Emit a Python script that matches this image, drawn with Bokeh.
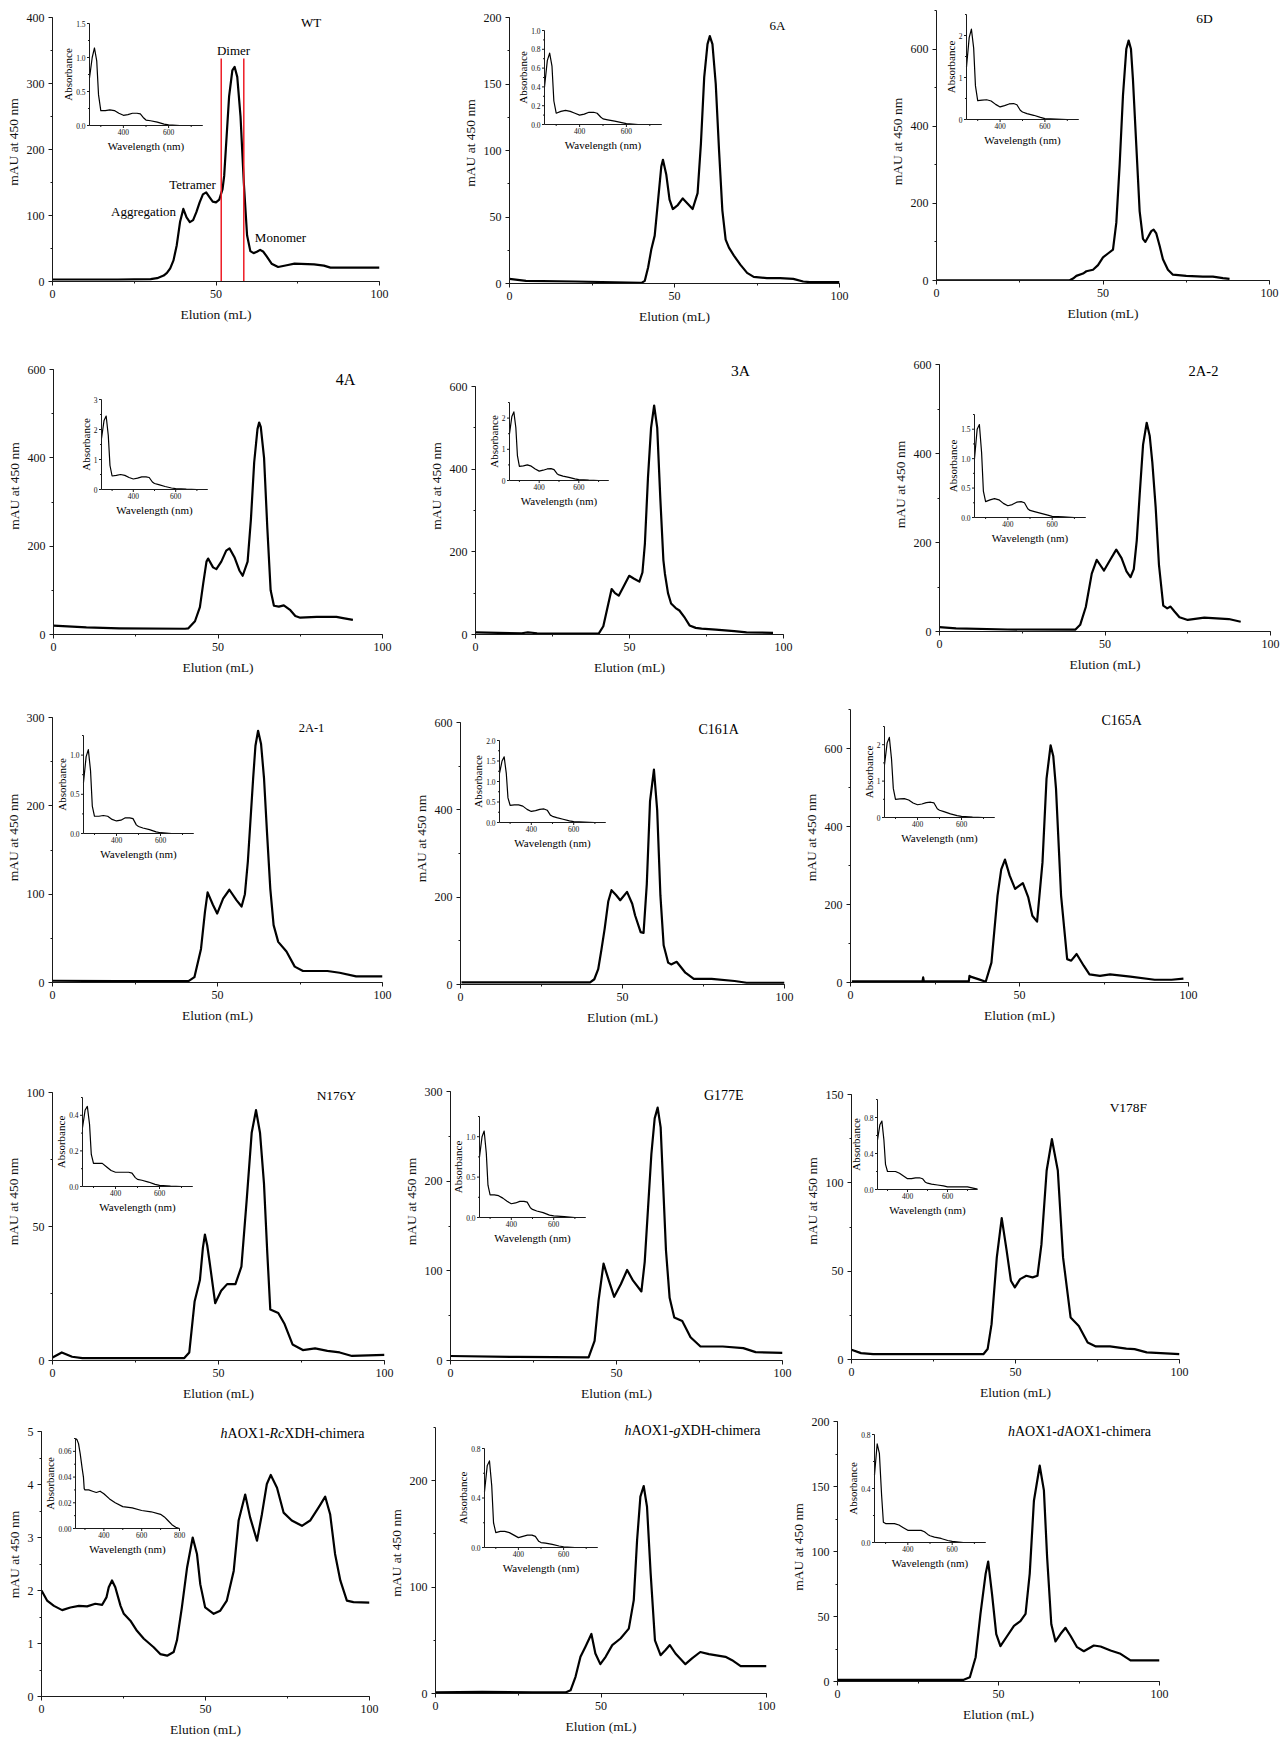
import math
from bokeh.plotting import figure
from bokeh.models import Range1d, SingleIntervalTicker, Label
from bokeh.layouts import row, column
from bokeh.core.properties import value
from bokeh.embed import file_html
from bokeh.resources import INLINE

FONT = "Liberation Serif"

# ---------------- chromatogram data (Elution mL, mAU at 450 nm) ----------------
WT_ML = [0, 10, 20, 30, 32, 34, 35, 36, 37, 38, 39, 40, 41, 42, 43, 44, 45, 46, 47, 48, 49, 50, 51, 52, 52.5, 53, 54, 55, 55.7, 56.5,
         57.5, 58.5, 59.5, 60.5, 61.5, 62.5, 63.5, 64.5, 65.5, 67, 69, 72, 74, 80, 83, 85, 90, 100]
WT_MAU = [3, 3, 3, 3.5, 5, 9, 13, 20, 32, 55, 90, 110, 97, 90, 93, 105, 120, 132, 135, 128, 121, 120, 124, 140, 160, 200, 280, 320, 325, 310,
          250, 150, 70, 46, 43, 45, 48, 45, 38, 27, 22, 25, 27, 26, 24, 21, 21, 21]
A6_ML = [0, 5, 20, 40, 41, 42, 43, 44, 45, 46, 46.5, 47.5, 48.5, 49.5, 51, 52.5, 54, 55.5, 57, 58, 59, 60, 60.7, 61.5, 62.5, 63.5, 64.5, 65.5,
         66.5, 68, 70, 72, 74, 78, 82, 86, 89, 91, 100]
A6_MAU = [3.5, 2, 1.5, 0.5, 2, 12, 26, 36, 62, 88, 93, 82, 63, 56, 59, 64, 60, 56, 68, 105, 155, 180, 186, 180, 150, 100, 55, 33,
          27, 21, 14, 8, 5, 4, 4, 3.5, 1.5, 1, 1]
D6_ML = [0, 40, 41, 42, 44, 45, 47, 48.5, 50, 51.5, 53, 54, 55, 56, 57, 57.7, 58.4, 59, 60, 61, 62, 62.7, 63.5, 64.5, 65.2, 66, 67, 68,
         69.5, 71, 75, 80, 83, 86, 88]
D6_MAU = [0.5, 0.5, 5, 12, 18, 24, 28, 40, 60, 70, 80, 150, 300, 480, 600, 622, 600, 520, 350, 180, 108, 100, 112, 128, 132, 122, 90, 55,
          28, 15, 12, 10, 10, 6, 4]
A4_ML = [0, 10, 20, 40, 41, 43, 44.5, 45.5, 46.5, 47, 48.5, 49.5, 51, 52.5, 53.5, 55, 56.5, 57.5, 59, 60, 61, 62, 62.5, 63, 64, 65, 66, 67,
         68.5, 70, 72, 73.5, 75, 80, 86, 88, 91]
A4_MAU = [20, 16, 14, 13, 14, 30, 62, 115, 165, 172, 152, 148, 165, 190, 195, 175, 145, 133, 165, 260, 390, 465, 480, 470, 400, 240, 100, 65,
          63, 66, 55, 42, 38, 40, 40, 37, 33]
A3_ML = [0, 15, 17, 20, 40, 41.5, 43, 44.2, 45.3, 46.5, 48, 49.9, 51.5, 53.2, 54.2, 55, 56, 57, 58, 59, 60, 61, 61.5, 62.5, 63.5, 65, 66.2,
         68, 69.5, 71.5, 73.4, 78, 84, 88, 96.6]
A3_MAU = [5, 3, 5, 3, 2, 20, 70, 110, 100, 94, 115, 142, 135, 128, 150, 220, 380, 500, 554, 500, 330, 180, 147, 100, 75, 64, 58,
          40, 22, 16, 14, 12, 8, 5, 4]
A22_ML = [0, 5, 20.6, 41, 42.5, 44.2, 46, 47.5, 48.5, 49.7, 51.5, 53.4, 55, 56.5, 57.7, 58.7, 59.6, 60.5, 61.5, 62.6, 63.5, 64.3, 65.3,
          66.3, 67.6, 68.8, 69.8, 71, 72.5, 75, 80, 87.4, 91]
A22_MAU = [10, 7, 4.5, 4, 15, 55, 130, 161, 150, 137, 160, 184, 165, 135, 122, 140, 205, 310, 420, 469, 440, 380, 280,
           150, 58, 52, 56, 45, 32, 26, 31, 28, 22]
A21_ML = [0, 20, 41.2, 43, 45, 46.2, 47, 48.6, 49.9, 51.7, 53.6, 55.8, 57.3, 58.3, 59.2, 60.8, 61.5, 62.3, 63.2, 64.1, 65, 66, 67, 68.4,
          70.9, 73.4, 75.9, 83.3, 87, 92, 100]
A21_MAU = [2, 1.5, 1.5, 6, 38, 80, 102, 88, 78, 95, 105, 93, 86, 100, 137, 231, 268, 285, 270, 231, 170, 106, 65, 46,
           35, 18, 13, 13, 11, 7, 7]
C161_ML = [0.3, 20, 40, 41.3, 42.5, 43.5, 44.5, 45.6, 46.6, 48, 49.3, 51.4, 53, 53.9, 55.6, 56.5, 57.5, 58.5, 59.7, 60.7, 61.7, 62.7,
           64.1, 65, 66.7, 68, 69.4, 72, 77.5, 84.6, 88.3, 100]
C161_MAU = [5, 5, 5, 12, 35, 80, 128, 190, 216, 205, 193, 212, 185, 158, 120, 118, 230, 420, 492, 400, 204, 90,
            50, 46, 52, 40, 27, 13, 13, 8, 4, 4]
C165_ML = [0.4, 21.3, 21.5, 21.7, 35, 35.2, 35.5, 38, 40, 41.7, 43.5, 44.6, 45.7, 47.1, 48.7, 51, 52.6, 53.8, 55.2, 56.8, 58, 59.2, 60,
           60.8, 62.3, 64.1, 65.3, 66.9, 69, 70.7, 73.8, 76.8, 82.8, 90, 95, 98.5]
C165_MAU = [3, 3, 13, 3, 3, 17, 15, 8, 2, 51, 223, 290, 315, 274, 240, 255, 218, 171, 156, 308, 523, 608, 580,
            497, 223, 60, 56, 73, 43, 21, 17, 21, 15, 7, 7, 10]
N176_ML = [0, 2.8, 5.9, 9, 39.7, 41.2, 42.8, 44.4, 45.3, 45.9, 46.6, 47.4, 49, 50.8, 52.6, 55.1, 56.9, 58.5, 60, 61.3, 62.5, 63.7, 64.7,
           65.6, 68, 69.9, 72.3, 75.4, 79.1, 82.8, 86.5, 90.2, 100]
N176_MAU = [1.1, 3, 1.4, 0.9, 0.9, 3, 22, 30, 42, 47, 43, 36, 21.4, 26, 28.5, 28.5, 35, 60, 85, 93.4, 85, 66, 40,
            19, 17.7, 13.6, 6, 3.9, 4.5, 3.6, 3, 1.7, 2.1]
G177_ML = [0, 20, 41.6, 43.4, 44.6, 46.1, 47.7, 49.3, 51.3, 53.2, 55, 57.5, 58.5, 59.5, 60.5, 61.5, 62.4, 63.3, 64, 64.9, 66, 67.4,
           69.8, 72.3, 75.3, 82, 88.2, 91.9, 100]
G177_MAU = [5, 4, 3.4, 22, 67, 108, 89, 71, 85, 101, 89, 77, 110, 170, 230, 270, 282, 260, 200, 123, 70, 48,
            44, 26, 15.6, 15.6, 13.8, 9.3, 8.6]
V178_ML = [0, 2.9, 6.6, 40.2, 41.5, 42.7, 44.3, 45.8, 47.3, 48.6, 49.8, 51.4, 53.3, 55.2, 56.7, 57.9, 59.5, 61.1, 62.9, 64.5, 66.8,
           69.3, 72, 74.5, 78.8, 83.8, 86.3, 90, 100]
V178_MAU = [5.5, 3.6, 3, 3, 5.9, 20, 57.8, 80, 61.6, 44.6, 40.8, 45.5, 47.4, 46.5, 47.4, 65, 107, 124.7, 107, 57.8, 23.8,
            19, 9.6, 7.4, 7.4, 6.2, 5.9, 4, 3]
RC_ML = [0, 1.7, 3.8, 6.3, 8.8, 11.4, 13.9, 16.4, 18.5, 19.8, 20.5, 21.5, 22.5, 24.1, 25.1, 27.1, 29.1, 31.2, 34.2, 36.2,
         38.3, 40.3, 41.3, 42.8, 44.4, 46.1, 47.4, 48.4, 49.9, 52.5, 54.5, 56.5, 58.6, 60.1, 62.1, 63.6, 65.7, 67.2, 68.7, 69.9,
         71.8, 73.8, 76.3, 79.4, 81.9, 84.5, 86.5, 88, 89.5, 91.1, 93.1, 95.1, 100]
RC_MAU = [2.0, 1.81, 1.71, 1.63, 1.68, 1.71, 1.70, 1.75, 1.73, 1.87, 2.06, 2.19, 2.06, 1.71, 1.56, 1.43, 1.24, 1.09, 0.93, 0.80,
          0.77, 0.84, 1.06, 1.68, 2.44, 3.0, 2.69, 2.12, 1.68, 1.56, 1.62, 1.81, 2.37, 3.32, 3.81, 3.38, 2.94, 3.44, 4.01, 4.18,
          3.94, 3.47, 3.32, 3.22, 3.32, 3.57, 3.77, 3.44, 2.69, 2.19, 1.81, 1.78, 1.77]
GX_ML = [0, 14.1, 29.2, 39.3, 40.8, 42.3, 43.8, 45.3, 47.1, 48.3, 49.8, 51.4, 53.4, 55.9, 58.4, 59.9, 60.9, 61.9, 62.9, 63.9, 65, 66.3,
         68, 69.5, 70.8, 72.5, 75.5, 77.5, 80, 82.6, 87.6, 89.6, 92.2, 100]
GX_MAU = [1, 1.5, 1, 1, 3, 15.7, 34.5, 44, 56, 37.6, 27.6, 34.5, 45.5, 51.7, 61, 87.8, 144, 185, 195, 175.5, 112.9, 50,
          36, 40.8, 45.5, 37.6, 27.6, 33, 39, 37, 34.5, 31.3, 25.7, 25.7]
DA_ML = [0, 28.9, 39.2, 41.1, 42.9, 44.4, 46, 46.8, 48, 49.3, 50.6, 52.7, 54.8, 56.8, 58.4, 59.7, 61, 62.8, 64.1, 65.1, 66.4, 67.7,
         69.3, 70.8, 72.4, 74.4, 76.5, 79.6, 81.7, 84.8, 87.9, 91, 100]
DA_MAU = [1.3, 1.3, 1.3, 3.3, 18.7, 52, 82.8, 92.3, 67, 36.4, 27.2, 35, 42.8, 46.4, 52, 83, 139, 166, 147, 95.6, 44, 30.8,
          36.7, 41.3, 35, 26.4, 23.3, 27.7, 26.9, 23.8, 21.3, 16.2, 16.2]

# WT annotations: dimer fraction boundaries (mL) and their height
DIMER_ML = [51.6, 58.5]
DIMER_TOP = 338

# ---------------- inset spectra (Wavelength nm, Absorbance) ----------------
SPEC_WL = [250, 262, 272, 282, 290, 300, 320, 340, 360, 380, 400, 420, 440, 460, 475, 490, 500, 520, 550, 580, 600, 650, 700, 750]
WT_ABS = [0.70, 1.00, 1.14, 0.95, 0.45, 0.22, 0.22, 0.23, 0.22, 0.18, 0.15, 0.16, 0.18, 0.18, 0.17, 0.11, 0.08, 0.07, 0.05, 0.02, 0.01, 0.0, 0.0, 0.0]
A6_ABS = [0.40, 0.68, 0.76, 0.62, 0.25, 0.12, 0.14, 0.15, 0.14, 0.12, 0.10, 0.11, 0.13, 0.13, 0.12, 0.08, 0.06, 0.05, 0.035, 0.02, 0.01, 0.0, 0.0, 0.0]
D6_ABS = [1.25, 1.95, 2.15, 1.70, 0.80, 0.45, 0.46, 0.47, 0.44, 0.36, 0.30, 0.33, 0.37, 0.38, 0.35, 0.22, 0.18, 0.14, 0.10, 0.05, 0.02, 0.01, 0.0, 0.0]
A4_ABS = [1.70, 2.30, 2.45, 1.80, 0.80, 0.45, 0.47, 0.50, 0.47, 0.40, 0.35, 0.38, 0.42, 0.42, 0.40, 0.25, 0.20, 0.16, 0.10, 0.05, 0.03, 0.01, 0.0, 0.0]
A3_ABS = [1.50, 2.05, 2.20, 1.70, 0.80, 0.45, 0.47, 0.50, 0.46, 0.37, 0.30, 0.33, 0.37, 0.38, 0.35, 0.22, 0.18, 0.14, 0.10, 0.05, 0.03, 0.01, 0.0, 0.0]
A22_ABS = [1.00, 1.50, 1.58, 1.10, 0.45, 0.27, 0.30, 0.32, 0.30, 0.24, 0.20, 0.22, 0.26, 0.27, 0.25, 0.15, 0.12, 0.10, 0.07, 0.04, 0.02, 0.01, 0.0, 0.0]
A21_ABS = [0.65, 0.98, 1.07, 0.80, 0.35, 0.22, 0.22, 0.23, 0.22, 0.18, 0.16, 0.17, 0.20, 0.20, 0.19, 0.11, 0.09, 0.07, 0.05, 0.02, 0.01, 0.0, 0.0, 0.0]
C161_ABS = [1.20, 1.50, 1.60, 1.20, 0.60, 0.42, 0.43, 0.43, 0.40, 0.32, 0.27, 0.29, 0.32, 0.33, 0.30, 0.18, 0.15, 0.12, 0.08, 0.04, 0.02, 0.01, 0.0, 0.0]
C165_ABS = [1.45, 2.05, 2.20, 1.60, 0.80, 0.50, 0.51, 0.52, 0.48, 0.40, 0.35, 0.37, 0.41, 0.42, 0.40, 0.24, 0.20, 0.16, 0.10, 0.05, 0.03, 0.01, 0.0, 0.0]
N176_ABS = [0.33, 0.43, 0.45, 0.35, 0.18, 0.13, 0.13, 0.13, 0.11, 0.09, 0.08, 0.08, 0.08, 0.08, 0.075, 0.05, 0.04, 0.035, 0.025, 0.012, 0.006, 0.002, 0.0, 0.0]
G177_ABS = [0.75, 1.00, 1.07, 0.80, 0.40, 0.28, 0.28, 0.27, 0.24, 0.20, 0.17, 0.18, 0.20, 0.20, 0.19, 0.12, 0.10, 0.08, 0.06, 0.03, 0.02, 0.01, 0.0, 0.0]
V178_ABS = [0.55, 0.72, 0.76, 0.55, 0.28, 0.20, 0.20, 0.20, 0.18, 0.15, 0.12, 0.12, 0.13, 0.13, 0.12, 0.08, 0.07, 0.06, 0.05, 0.04, 0.03, 0.03, 0.03, 0.005]
GX_ABS = [0.45, 0.66, 0.70, 0.50, 0.20, 0.12, 0.13, 0.13, 0.12, 0.10, 0.08, 0.09, 0.10, 0.10, 0.09, 0.05, 0.04, 0.035, 0.025, 0.012, 0.006, 0.0, 0.0, 0.0]
DA_ABS = [0.50, 0.73, 0.66, 0.35, 0.15, 0.14, 0.14, 0.14, 0.13, 0.11, 0.09, 0.09, 0.09, 0.09, 0.08, 0.06, 0.05, 0.04, 0.03, 0.015, 0.008, 0.0, 0.0, 0.0]
RC_WL = [250, 258, 266, 275, 285, 292, 296, 300, 320, 340, 360, 380, 400, 430, 460, 500, 550, 600, 650, 700, 720, 740, 760, 780, 800]
RC_ABS = [0.070, 0.069, 0.066, 0.058, 0.047, 0.040, 0.031, 0.030, 0.030, 0.029, 0.028, 0.029, 0.027, 0.023, 0.020, 0.017, 0.016,
          0.014, 0.013, 0.011, 0.009, 0.006, 0.003, 0.001, 0.0]

# ---------------- text widths (Times-like metrics, em) ----------------
W_N = {'A': .722, 'O': .722, 'X': .722, 'D': .722, 'H': .722, '1': .5, '-': .333, 'c': .444, 'h': .5, 'i': .278,
       'm': .778, 'e': .444, 'r': .333, 'a': .444}
W_I = {'h': .5, 'R': .611, 'c': .444, 'g': .5, 'd': .5}


def tw(s, italic=False):
    tab = W_I if italic else W_N
    return sum(tab.get(ch, 0.5) for ch in s)


def num_w(s):
    return sum(0.25 if ch == '.' else 0.5 for ch in s)


# ---------------- panel layout specs (pixels) ----------------
PANELS = [
    # row 1
    dict(ml=WT_ML, mau=WT_MAU, ymax=400, ystep=100, frame=(52, 379, 17, 281), fig=(0, 430, 0, 335),
         title=[("WT", False)], tpos=(307, 22), tsize=13,
         inset=dict(wl=SPEC_WL, ab=WT_ABS, xr=(250, 750), yr=(0, 1.5), ystep=0.5, fmt="{:.1f}", box=(89, 202, 23, 125))),
    dict(ml=A6_ML, mau=A6_MAU, ymax=200, ystep=50, frame=(509, 839, 17, 283), fig=(430, 860, 0, 335),
         title=[("6A", False)], tpos=(777, 25), tsize=13,
         inset=dict(wl=SPEC_WL, ab=A6_ABS, xr=(250, 750), yr=(0, 1.0), ystep=0.2, fmt="{:.1f}", box=(544, 661, 30, 124))),
    dict(ml=D6_ML, mau=D6_MAU, ymax=700, ystep=200, frame=(936, 1269, 10, 280), fig=(860, 1280, 0, 335),
         title=[("6D", False)], tpos=(1204, 18), tsize=13.5,
         inset=dict(wl=SPEC_WL, ab=D6_ABS, xr=(250, 750), yr=(0, 2.5), ystep=1, fmt="{:.0f}", box=(966, 1078, 14, 119))),
    # row 2
    dict(ml=A4_ML, mau=A4_MAU, ymax=600, ystep=200, frame=(53, 382, 369, 634), fig=(0, 420, 335, 690),
         title=[("4A", False)], tpos=(345, 379), tsize=16,
         inset=dict(wl=SPEC_WL, ab=A4_ABS, xr=(250, 750), yr=(0, 3), ystep=1, fmt="{:.0f}", box=(101, 207, 399, 489))),
    dict(ml=A3_ML, mau=A3_MAU, ymax=600, ystep=200, frame=(475, 783, 386, 634), fig=(420, 860, 335, 690),
         title=[("3A", False)], tpos=(740, 370), tsize=15.5,
         inset=dict(wl=SPEC_WL, ab=A3_ABS, xr=(250, 750), yr=(0, 2.5), ystep=1, fmt="{:.0f}", box=(509, 608, 402, 480))),
    dict(ml=A22_ML, mau=A22_MAU, ymax=600, ystep=200, frame=(939, 1270, 364, 631), fig=(860, 1280, 335, 690),
         title=[("2A-2", False)], tpos=(1203, 370), tsize=14.5,
         inset=dict(wl=SPEC_WL, ab=A22_ABS, xr=(250, 750), yr=(0, 1.75), ystep=0.5, fmt="{:.1f}", box=(974, 1085, 414, 517))),
    # row 3
    dict(ml=A21_ML, mau=A21_MAU, ymax=300, ystep=100, frame=(52, 382, 717, 982), fig=(0, 410, 690, 1040),
         title=[("2A-1", False)], tpos=(311, 727), tsize=12.5,
         inset=dict(wl=SPEC_WL, ab=A21_ABS, xr=(250, 750), yr=(0, 1.25), ystep=0.5, fmt="{:.1f}", box=(83, 193, 735, 833))),
    dict(ml=C161_ML, mau=C161_MAU, ymax=600, ystep=200, frame=(460, 784, 722, 984), fig=(410, 800, 690, 1040),
         title=[("C161A", False)], tpos=(717, 729), tsize=14,
         inset=dict(wl=SPEC_WL, ab=C161_ABS, xr=(250, 750), yr=(0, 2.0), ystep=0.5, fmt="{:.1f}", box=(499, 605, 740, 822))),
    dict(ml=C165_ML, mau=C165_MAU, ymax=700, ystep=200, frame=(850, 1188, 709, 982), fig=(800, 1280, 690, 1040),
         title=[("C165A", False)], tpos=(1120, 720), tsize=14,
         inset=dict(wl=SPEC_WL, ab=C165_ABS, xr=(250, 750), yr=(0, 2.5), ystep=1, fmt="{:.0f}", box=(884, 994, 726, 817))),
    # row 4
    dict(ml=N176_ML, mau=N176_MAU, ymax=100, ystep=50, frame=(52, 384, 1092, 1360), fig=(0, 400, 1040, 1410),
         title=[("N176Y", False)], tpos=(333, 1095), tsize=13.5,
         inset=dict(wl=SPEC_WL, ab=N176_ABS, xr=(250, 750), yr=(0, 0.5), ystep=0.2, fmt="{:.1f}", box=(82, 192, 1097, 1186))),
    dict(ml=G177_ML, mau=G177_MAU, ymax=300, ystep=100, frame=(449, 781, 1091, 1360), fig=(400, 800, 1040, 1410),
         title=[("G177E", False)], tpos=(720, 1095), tsize=14,
         inset=dict(wl=SPEC_WL, ab=G177_ABS, xr=(250, 750), yr=(0, 1.25), ystep=0.5, fmt="{:.1f}", box=(478, 584, 1116, 1217))),
    dict(ml=V178_ML, mau=V178_MAU, ymax=150, ystep=50, frame=(847, 1175, 1094, 1359), fig=(800, 1280, 1040, 1410),
         title=[("V178F", False)], tpos=(1122, 1107), tsize=13.5,
         inset=dict(wl=SPEC_WL, ab=V178_ABS, xr=(250, 750), yr=(0, 1.0), ystep=0.4, fmt="{:.1f}", box=(873, 973, 1099, 1189))),
    # row 5
    dict(ml=RC_ML, mau=RC_MAU, ymax=5, ystep=1, frame=(41, 369, 1431, 1696), fig=(0, 385, 1410, 1742),
         title=[("h", True), ("AOX1-", False), ("Rc", True), ("XDH-chimera", False)], tpos=(292, 1433), tsize=14,
         inset=dict(wl=RC_WL, ab=RC_ABS, xr=(250, 800), yr=(0, 0.07), ystep=0.02, fmt="{:.2f}", box=(75, 179, 1438, 1528))),
    dict(ml=GX_ML, mau=GX_MAU, ymax=250, ystep=100, frame=(433, 764, 1427, 1693), fig=(385, 785, 1410, 1742),
         title=[("h", True), ("AOX1-", False), ("g", True), ("XDH-chimera", False)], tpos=(690, 1430), tsize=14,
         inset=dict(wl=SPEC_WL, ab=GX_ABS, xr=(250, 750), yr=(0, 0.8), ystep=0.4, fmt="{:.1f}", box=(482, 595, 1448, 1547))),
    dict(ml=DA_ML, mau=DA_MAU, ymax=200, ystep=50, frame=(834, 1156, 1421, 1681), fig=(785, 1280, 1410, 1742),
         title=[("h", True), ("AOX1-", False), ("d", True), ("AOX1-chimera", False)], tpos=(1076, 1431), tsize=14,
         inset=dict(wl=SPEC_WL, ab=DA_ABS, xr=(250, 750), yr=(0, 0.8), ystep=0.4, fmt="{:.1f}", box=(871, 982, 1434, 1542))),
]

WT_NOTES = [("Dimer", 233, 50), ("Tetramer", 192, 184), ("Aggregation", 143, 211), ("Monomer", 280, 237)]

AX_COLOR = "#1a1a1a"


def style_axis(ax, label_standoff):
    ax.axis_line_color = AX_COLOR
    ax.axis_line_width = 1
    ax.major_tick_line_color = AX_COLOR
    ax.minor_tick_line_color = AX_COLOR
    ax.major_tick_in = 0
    ax.major_tick_out = 4
    ax.minor_tick_in = 0
    ax.minor_tick_out = 2
    ax.major_label_text_font = FONT
    ax.major_label_text_font_size = "12px"
    ax.major_label_text_color = "#111111"
    ax.major_label_standoff = 4
    ax.axis_label_text_font = FONT
    ax.axis_label_text_font_size = "13.5px"
    ax.axis_label_text_font_style = "normal"
    ax.axis_label_text_color = "#111111"
    ax.axis_label_standoff = label_standoff


def add_label(p, x, y, text, size, italic=False, align="center"):
    p.add_layout(Label(x=x, y=y, x_units="data", y_units="data", text=text, text_align=align,
                       text_baseline="middle", text_font=FONT, text_font_size=f"{size}px",
                       text_font_style="italic" if italic else "normal", text_color="black"))


def make_panel(sp, is_wt=False):
    L, R, T, B = sp["frame"]
    FX0, FX1, FY0, FY1 = sp["fig"]
    ymax = sp["ymax"]
    # the frame reaches almost to the figure top so that titles above the axis end are not clipped;
    # the visible y axis is bounded to [0, ymax]
    Tf = FY0 + 2
    y_end = ymax * (B - Tf) / float(B - T)
    p = figure(frame_width=R - L, frame_height=B - Tf,
               min_border_left=L - FX0, min_border_right=FX1 - R,
               min_border_top=Tf - FY0, min_border_bottom=FY1 - B,
               x_range=Range1d(0, 100), y_range=Range1d(0, y_end),
               output_backend="svg", toolbar_location=None, tools="")
    p.outline_line_color = None
    p.grid.visible = False
    p.background_fill_color = "white"
    p.border_fill_color = "white"
    p.xaxis.ticker = SingleIntervalTicker(interval=50, num_minor_ticks=2)
    p.yaxis.ticker = SingleIntervalTicker(interval=sp["ystep"], num_minor_ticks=2)
    p.xaxis.bounds = (0, 100)
    p.yaxis.bounds = (0, ymax)
    p.xaxis.axis_label = "Elution (mL)"
    p.yaxis.axis_label = "mAU at 450 nm"
    style_axis(p.xaxis[0], 6)
    style_axis(p.yaxis[0], 3)

    def dx(px):
        return (px - L) / (R - L) * 100.0

    def dy(py):
        return (B - py) / (B - T) * ymax

    n = min(len(sp["ml"]), len(sp["mau"]))
    p.line(sp["ml"][:n], sp["mau"][:n], line_width=2.2, line_color="black", line_join="round")

    # panel title (possibly mixed italic)
    fs = sp["tsize"]
    cx, cy = sp["tpos"]
    total = sum(tw(t, it) for t, it in sp["title"]) * fs
    xpos = cx - total / 2.0
    for t, it in sp["title"]:
        add_label(p, dx(xpos), dy(cy), t, fs, italic=it, align="left")
        xpos += tw(t, it) * fs

    if is_wt:
        p.segment(x0=DIMER_ML, y0=[0, 0], x1=DIMER_ML, y1=[DIMER_TOP, DIMER_TOP], line_color="#ee1c25", line_width=1.5)
        for t, px, py in WT_NOTES:
            add_label(p, dx(px), dy(py), t, 13)

    # inset
    ins = sp["inset"]
    iL, iR, iT, iB = ins["box"]
    xr0, xr1 = ins["xr"]
    yr0, yr1 = ins["yr"]
    sub = p.subplot(x_source=Range1d(xr0, xr1), y_source=Range1d(yr0, yr1),
                    x_target=Range1d(dx(iL), dx(iR)), y_target=Range1d(dy(iB), dy(iT)))
    sxp = (iR - iL) / float(xr1 - xr0)
    syp = (iB - iT) / float(yr1 - yr0)
    m = min(len(ins["wl"]), len(ins["ab"]))
    sub.line(ins["wl"][:m], ins["ab"][:m], line_width=1.2, line_color="black", line_join="round")
    sub.segment(x0=[xr0, xr0], y0=[yr0, yr0], x1=[xr0, xr1], y1=[yr1, yr0], line_color=AX_COLOR, line_width=1)

    step = ins["ystep"]
    nmaj = int(round((yr1 - yr0) / step)) + 1
    ymaj = [yr0 + k * step for k in range(nmaj) if yr0 + k * step <= yr1 + 1e-9]
    ymin = [yr0 + (k + 0.5) * step for k in range(nmaj) if yr0 + (k + 0.5) * step <= yr1 + 1e-9]
    sub.segment(x0=[xr0 - 2.5 / sxp] * len(ymaj), y0=ymaj, x1=[xr0] * len(ymaj), y1=ymaj, line_color=AX_COLOR, line_width=1)
    if ymin:
        sub.segment(x0=[xr0 - 1.5 / sxp] * len(ymin), y0=ymin, x1=[xr0] * len(ymin), y1=ymin, line_color=AX_COLOR, line_width=1)
    ylabs = [ins["fmt"].format(v) for v in ymaj]
    sub.text(x=[xr0 - 4.0 / sxp] * len(ymaj), y=ymaj, text=ylabs, text_align="right", text_baseline="middle",
             text_font=value(FONT), text_font_size="7.5px", text_color="#111111")

    xmaj = [v for v in range(400, xr1 + 1, 200)]
    xmin_t = [v for v in range(300, xr1 + 1, 200)]
    sub.segment(x0=xmaj, y0=[yr0 - 2.5 / syp] * len(xmaj), x1=xmaj, y1=[yr0] * len(xmaj), line_color=AX_COLOR, line_width=1)
    sub.segment(x0=xmin_t, y0=[yr0 - 1.5 / syp] * len(xmin_t), x1=xmin_t, y1=[yr0] * len(xmin_t), line_color=AX_COLOR, line_width=1)
    sub.text(x=xmaj, y=[yr0 - 3.5 / syp] * len(xmaj), text=[str(v) for v in xmaj], text_align="center", text_baseline="top",
             text_font=value(FONT), text_font_size="7.5px", text_color="#111111")

    wmax = max(num_w(s) for s in ylabs) * 7.5
    sub.text(x=[xr0 - (wmax + 6.0) / sxp], y=[(yr0 + yr1) / 2.0], text=["Absorbance"], angle=math.pi / 2,
             text_align="center", text_baseline="bottom", text_font=value(FONT), text_font_size="11px", text_color="black")
    sub.text(x=[(xr0 + xr1) / 2.0], y=[yr0 - 20.0 / syp], text=["Wavelength (nm)"], text_align="center",
             text_baseline="middle", text_font=value(FONT), text_font_size="11px", text_color="black")
    return p


figs = [make_panel(sp, is_wt=(i == 0)) for i, sp in enumerate(PANELS)]
# each figure wrapped in its own column so that a row does not align the frames of its plots
rows = [row(*[column(f, spacing=0) for f in figs[i:i + 3]], spacing=0) for i in range(0, 15, 3)]
layout = column(*rows, spacing=0)

open("out.html", "w").write(file_html(layout, INLINE, title="SEC chromatograms"))
